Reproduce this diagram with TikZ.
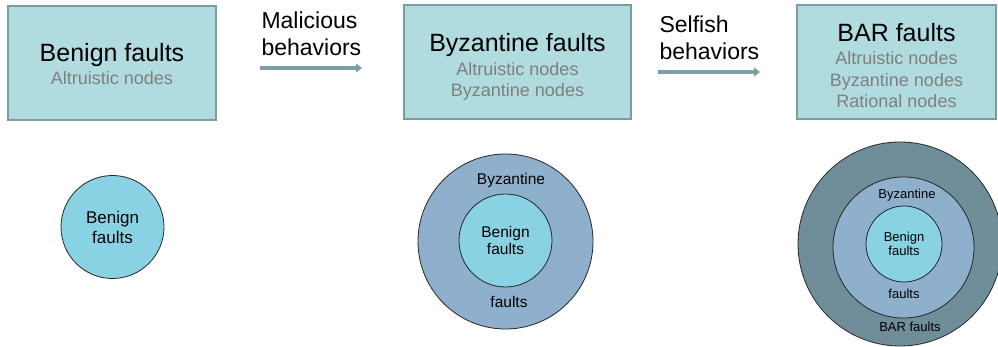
\documentclass[tikz,border=0pt]{standalone}
\usepackage{fontspec}
\setmainfont{Liberation Sans}
\usepackage{tikz}
\usetikzlibrary{arrows.meta,positioning}
\usepackage{xcolor}
\definecolor{boxfill}{HTML}{B0DCDF}
\definecolor{boxedge}{HTML}{7C9CA1}
\definecolor{subgray}{HTML}{7F7F7F}
\definecolor{arrowcol}{HTML}{7A9FA4}
\definecolor{benigncol}{HTML}{89D2E3}
\definecolor{byzcol}{HTML}{8EB0CC}
\definecolor{barcol}{HTML}{6F8E99}
\newcommand{\boxtitle}[1]{{\color{black}\fontsize{25}{28}\selectfont #1}}

\begin{document}
\begin{tikzpicture}[
    x=1pt, y=-1pt,
    faultbox/.style={rectangle, draw=boxedge, line width=2pt, fill=boxfill,
                     minimum height=114pt, inner sep=0pt},
    boxtext/.style={align=center, inner sep=0pt, text=subgray,
                    font=\fontsize{18}{21.5}\selectfont},
    behav/.style={-{Triangle[length=6pt,width=9pt]}, draw=arrowcol, line width=3.5pt},
    behavlab/.style={anchor=west, align=left, font=\fontsize{23}{27}\selectfont},
    ring/.style={circle, draw=black!85, line width=0.8pt, inner sep=0pt, align=center},
]
\useasboundingbox (0,0) rectangle (998,347);

% Fault model boxes.
\node[faultbox, minimum width=208pt] (bbox) at (112,63) {};
\node[faultbox, minimum width=227pt] (zbox) at (517.5,62.5) {};
\node[faultbox, minimum width=199pt] (rbox) at (896.5,62.5) {};
\node[boxtext] (btxt) at (112,64)
  {\boxtitle{Benign faults}\\[2pt]Altruistic nodes};
\node[boxtext] (ztxt) at (517.5,67)
  {\boxtitle{Byzantine faults}\\[2pt]Altruistic nodes\\Byzantine nodes};
\node[boxtext] (rtxt) at (896.5,65.5)
  {\boxtitle{BAR faults}\\[2pt]Altruistic nodes\\Byzantine nodes\\Rational nodes};

% Behaviour arrows between the boxes.
\node[behavlab] (mal) at (258,34) {Malicious\\behaviors};
\node[behavlab] (sel) at (656,38) {Selfish\\behaviors};
\coordinate (m0) at (260,68);
\coordinate (m1) at (362,68);
\coordinate (s0) at (658,72);
\coordinate (s1) at (760,72);
\draw[behav] (m0) -- (m1);
\draw[behav] (s0) -- (s1);

% Benign only.
\node[ring, fill=benigncol, minimum size=103pt, font=\fontsize{17}{20}\selectfont]
  (c1) at (112.5,227) {Benign\\faults};

% Byzantine around benign.
\node[ring, fill=byzcol, minimum size=175pt] (c2out) at (505.5,241.5) {};
\node[ring, fill=benigncol, minimum size=93pt, font=\fontsize{15.5}{17.5}\selectfont]
  (c2in) at (505.5,240.5) {Benign\\faults};
\node[font=\fontsize{15.5}{17.5}\selectfont] (c2top) at (511,180) {Byzantine};
\node[font=\fontsize{15.5}{17.5}\selectfont] (c2bot) at (509,302) {faults};

% BAR around Byzantine around benign.
\node[ring, fill=barcol, minimum size=204pt] (c3out) at (900,244) {};
\node[ring, fill=byzcol, minimum size=141pt] (c3mid) at (903.5,247.5) {};
\node[ring, fill=benigncol, minimum size=76pt, font=\fontsize{13}{14.5}\selectfont]
  (c3in) at (904,244) {Benign\\faults};
\node[font=\fontsize{13}{14.5}\selectfont] (c3top) at (907,195) {Byzantine};
\node[font=\fontsize{13}{14.5}\selectfont] (c3bot) at (904,294) {faults};
\node[font=\fontsize{13}{14.5}\selectfont] (c3bar) at (910,327) {BAR faults};
\end{tikzpicture}
\end{document}
